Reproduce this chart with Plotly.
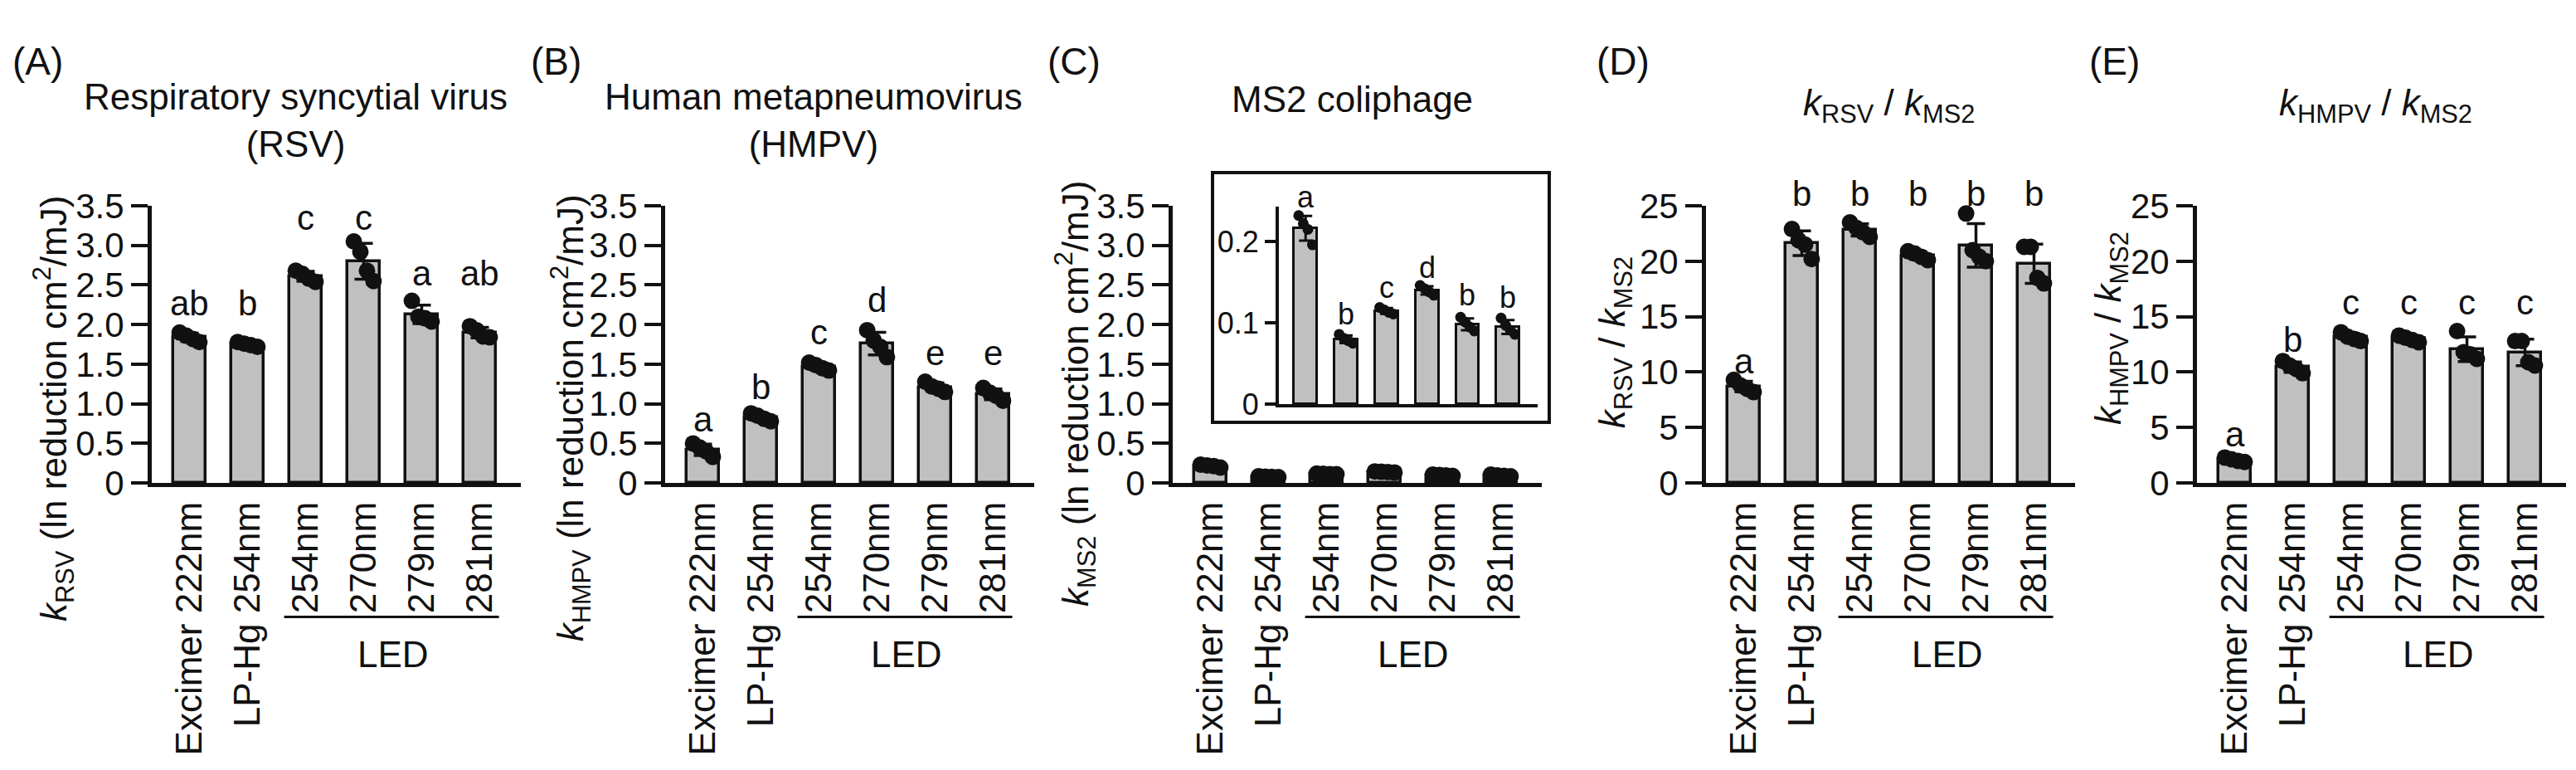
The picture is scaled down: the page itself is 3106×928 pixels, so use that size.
import numpy as np
import plotly.graph_objects as go

W, H = 3106, 928
INK = "#111111"
GREY = "#c0c0c0"
FONT = "Liberation Sans, Arial, sans-serif"

categories = ["Excimer 222nm", "LP-Hg 254nm", "254nm", "270nm", "279nm", "281nm"]

# replicate values, one list per lamp
k_rsv = [[1.90, 1.86, 1.82, 1.78], [1.78, 1.76, 1.74, 1.72], [2.68, 2.64, 2.58, 2.54],
         [3.05, 2.92, 2.68, 2.55], [2.30, 2.10, 2.08, 2.04], [1.98, 1.93, 1.85, 1.84]]
k_hmpv = [[0.50, 0.45, 0.40, 0.33], [0.88, 0.85, 0.81, 0.78], [1.52, 1.49, 1.45, 1.42],
          [1.93, 1.80, 1.72, 1.59], [1.28, 1.22, 1.19, 1.15], [1.20, 1.14, 1.10, 1.04]]
k_ms2 = [[0.232, 0.222, 0.215, 0.196], [0.086, 0.081, 0.078, 0.075], [0.119, 0.116, 0.113, 0.111],
         [0.146, 0.142, 0.138, 0.134], [0.107, 0.101, 0.095, 0.090], [0.106, 0.097, 0.091, 0.086]]
ratio_rsv = [[9.3, 8.8, 8.5, 8.2], [22.9, 21.9, 21.5, 20.2], [23.5, 23.0, 22.6, 22.2],
             [20.9, 20.7, 20.4, 20.1], [24.3, 21.0, 20.4, 20.0], [21.3, 21.3, 18.5, 18.0]]
ratio_hmpv = [[2.3, 2.15, 2.0, 1.9], [11.0, 10.6, 10.3, 9.9], [13.6, 13.2, 13.0, 12.8],
              [13.3, 13.1, 12.9, 12.7], [13.7, 11.8, 11.6, 11.2], [12.8, 12.8, 10.9, 10.6]]

letters_rsv = ["ab", "b", "c", "c", "a", "ab"]
letters_hmpv = ["a", "b", "c", "d", "e", "e"]
letters_ms2 = ["a", "b", "c", "d", "b", "b"]
letters_ratio_rsv = ["a", "b", "b", "b", "b", "b"]
letters_ratio_hmpv = ["a", "b", "c", "c", "c", "c"]

ticks_k = [0, 0.5, 1.0, 1.5, 2.0, 2.5, 3.0, 3.5]
ticks_k_text = ["0", "0.5", "1.0", "1.5", "2.0", "2.5", "3.0", "3.5"]
ticks_ratio = [0, 5, 10, 15, 20, 25]
ticks_ratio_text = ["0", "5", "10", "15", "20", "25"]
ticks_inset = [0, 0.1, 0.2]
ticks_inset_text = ["0", "0.1", "0.2"]

# layout of each panel in pixels (y-axis position, letter heights, titles)
panels = [
    dict(tag="(A)", tag_x=45, data=k_rsv, letters=letters_rsv, letter_y=[2.27, 2.27, 3.35, 3.35, 2.65, 2.65],
         left=183, ymax=3.5, tv=ticks_k, tt=ticks_k_text,
         title="Respiratory syncytial virus<br>(RSV)", title_x=356, title_y=128,
         ytitle="<i>k</i><sub>RSV</sub> (ln reduction cm<sup>2</sup>/mJ)", yt_x=65, yt_y=495),
    dict(tag="(B)", tag_x=670, data=k_hmpv, letters=letters_hmpv, letter_y=[0.80, 1.21, 1.90, 2.31, 1.64, 1.64],
         left=802, ymax=3.5, tv=ticks_k, tt=ticks_k_text,
         title="Human metapneumovirus<br>(HMPV)", title_x=981, title_y=128,
         ytitle="<i>k</i><sub>HMPV</sub> (ln reduction cm<sup>2</sup>/mJ)", yt_x=688, yt_y=507),
    dict(tag="(C)", tag_x=1295, data=k_ms2, letters=None, letter_y=None,
         left=1414, ymax=3.5, tv=ticks_k, tt=ticks_k_text,
         title="MS2 coliphage", title_x=1630, title_y=102,
         ytitle="<i>k</i><sub>MS2</sub> (ln reduction cm<sup>2</sup>/mJ)", yt_x=1297, yt_y=476),
    dict(tag="(D)", tag_x=1957, data=ratio_rsv, letters=letters_ratio_rsv, letter_y=[11.0, 26.1, 26.1, 26.1, 26.1, 26.1],
         left=2057, ymax=25, tv=ticks_ratio, tt=ticks_ratio_text,
         title="<i>k</i><sub>RSV</sub> / <i>k</i><sub>MS2</sub>", title_x=2277, title_y=110,
         ytitle="<i>k</i><sub>RSV</sub> / <i>k</i><sub>MS2</sub>", yt_x=1947, yt_y=411),
    dict(tag="(E)", tag_x=2549, data=ratio_hmpv, letters=letters_ratio_hmpv, letter_y=[4.4, 12.9, 16.3, 16.3, 16.3, 16.3],
         left=2649, ymax=25, tv=ticks_ratio, tt=ticks_ratio_text,
         title="<i>k</i><sub>HMPV</sub> / <i>k</i><sub>MS2</sub>", title_x=2864, title_y=110,
         ytitle="<i>k</i><sub>HMPV</sub> / <i>k</i><sub>MS2</sub>", yt_x=2545, yt_y=393),
]

STEP = 70.0
X0, X1 = -0.65, 5.7
TOP, BOT = 237, 589

# inset of panel C
IN_LEFT, IN_STEP, IN_X0, IN_X1 = 1542, 48.8, -0.66, 5.74
IN_TOP, IN_BOT, IN_YMAX = 238, 489, 0.243


def px(p):
    return p / W


def py(p):
    return 1 - p / H


fig = go.Figure()
annotations = []
shapes = []
layout = {}


def note(text, x, y, size, angle=0):
    annotations.append(dict(text=text, x=x, y=y, xref="paper", yref="paper", xanchor="center",
                            yanchor="middle", align="center", showarrow=False, textangle=angle,
                            font=dict(size=size, color=INK)))


def add_bars(data, n, spread, dot_size, line_w, cap):
    xa = "x" if n == 1 else f"x{n}"
    ya = "y" if n == 1 else f"y{n}"
    idx = list(range(len(categories)))
    means = [float(np.mean(v)) for v in data]
    sds = [float(np.std(v, ddof=1)) for v in data]
    fig.add_trace(go.Bar(
        x=idx, y=means, width=0.57, xaxis=xa, yaxis=ya,
        marker=dict(color=GREY, line=dict(color=INK, width=line_w)),
        error_y=dict(type="data", array=sds, visible=True, color=INK, thickness=line_w, width=cap),
        showlegend=False,
    ))
    xs, ys = [], []
    for i, v in enumerate(data):
        vals = sorted(v, reverse=True)
        offs = np.linspace(-spread, spread, len(vals))
        xs += list(i + offs)
        ys += vals
    fig.add_trace(go.Scatter(
        x=xs, y=ys, mode="markers", xaxis=xa, yaxis=ya,
        marker=dict(color=INK, size=dot_size), showlegend=False, cliponaxis=False,
    ))


for n, p in enumerate(panels, start=1):
    add_bars(p["data"], n, 0.17, 20, 3.5, 11)
    left = p["left"]
    right = left + (X1 - X0) * STEP
    key = "" if n == 1 else str(n)
    layout[f"xaxis{key}"] = dict(
        domain=[px(left), px(right)], range=[X0, X1], anchor=f"y{key}",
        tickvals=list(range(6)), ticktext=categories, tickangle=-90,
        showline=True, linewidth=5, linecolor=INK, ticks="", showgrid=False, zeroline=False,
        tickfont=dict(size=44, color=INK),
    )
    layout[f"yaxis{key}"] = dict(
        domain=[py(BOT), py(TOP)], range=[0, p["ymax"]], anchor=f"x{key}",
        tickvals=p["tv"], ticktext=p["tt"],
        showline=True, linewidth=5, linecolor=INK, ticks="outside", ticklen=20, tickwidth=4,
        tickcolor=INK, showgrid=False, zeroline=False, tickfont=dict(size=42, color=INK),
    )

    def cx(c, left=left):
        return px(left + (c - X0) * STEP)

    def vy(v, ymax=p["ymax"]):
        return py(BOT - v / ymax * (BOT - TOP))

    # LED bracket
    shapes.append(dict(type="line", xref="paper", yref="paper", x0=cx(1.63), x1=cx(5.33),
                       y0=py(759), y1=py(759), line=dict(color=INK, width=3)))
    note("LED", cx(3.5), py(806), 44)
    note(p["tag"], px(p["tag_x"]), py(54), 46)
    note(p["title"], px(p["title_x"]), py(p["title_y"]), 44)
    note(p["ytitle"], px(p["yt_x"]), py(p["yt_y"]), 44, angle=-90)
    if p["letters"]:
        for i, (lt, ly) in enumerate(zip(p["letters"], p["letter_y"])):
            note(lt, cx(i), vy(ly), 42)

# inset with the MS2 bars on a finer scale
add_bars(k_ms2, 6, 0.17, 13, 3, 8)
layout["xaxis6"] = dict(
    domain=[px(IN_LEFT), px(IN_LEFT + (IN_X1 - IN_X0) * IN_STEP)], range=[IN_X0, IN_X1], anchor="y6",
    showticklabels=False, ticks="", showline=True, linewidth=4, linecolor=INK, showgrid=False, zeroline=False,
)
layout["yaxis6"] = dict(
    domain=[py(IN_BOT), py(IN_TOP)], range=[0, IN_YMAX], anchor="x6",
    tickvals=ticks_inset, ticktext=ticks_inset_text,
    showline=True, linewidth=4, linecolor=INK, ticks="outside", ticklen=13, tickwidth=3.5,
    tickcolor=INK, showgrid=False, zeroline=False, tickfont=dict(size=36, color=INK),
)
for i, (lt, ly) in enumerate(zip(letters_ms2, [0.255, 0.111, 0.144, 0.168, 0.134, 0.131])):
    note(lt, px(IN_LEFT + (i - IN_X0) * IN_STEP), py(IN_BOT - ly / IN_YMAX * (IN_BOT - IN_TOP)), 36)
shapes.append(dict(type="rect", xref="paper", yref="paper", x0=px(1462), x1=px(1868),
                   y0=py(512), y1=py(195), line=dict(color=INK, width=4), layer="below"))

fig.update_layout(
    width=W, height=H, margin=dict(l=0, r=0, t=0, b=0),
    paper_bgcolor="white", plot_bgcolor="rgba(0,0,0,0)",
    font=dict(family=FONT, color=INK), bargap=0,
    annotations=annotations, shapes=shapes, **layout,
)

# drop the default 8px page margin so the figure fills the window exactly
fig.write_html("out.html", config={"displayModeBar": False},
               post_script="document.body.style.margin='0';")
